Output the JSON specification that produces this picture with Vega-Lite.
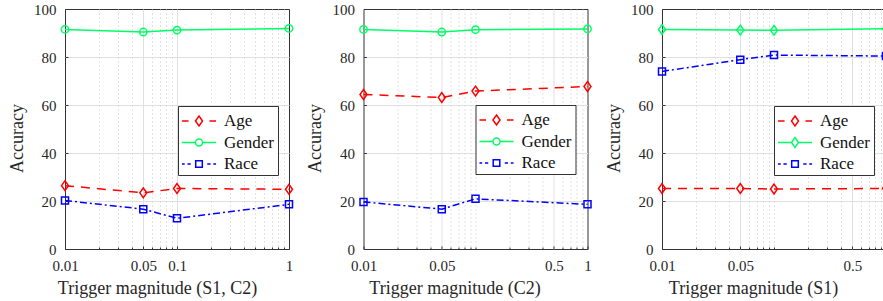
{
  "$schema": "https://vega.github.io/schema/vega-lite/v6.json",
  "padding": {"left": 7, "top": 1, "right": 0, "bottom": 0},
  "autosize": {"type": "pad"},
  "background": "white",
  "spacing": 74.5,
  "bounds": "flush",
  "config": {
    "font": "Liberation Serif",
    "view": {"stroke": "#333333", "strokeWidth": 1},
    "axis": {
      "domain": false,
      "ticks": true,
      "tickSize": -3,
      "tickColor": "#333333",
      "labelFont": "Liberation Serif",
      "labelFontSize": 15,
      "labelColor": "#262626",
      "titleFont": "Liberation Serif",
      "titleFontSize": 18,
      "titleFontWeight": "normal",
      "titleColor": "#262626",
      "gridColor": "#e0e0e0",
      "gridWidth": 1,
      "labelOverlap": false,
      "labelFlush": false
    },
    "legend": {
      "orient": "none",
      "title": null,
      "strokeColor": "#333333",
      "fillColor": "white",
      "padding": 3,
      "labelFont": "Liberation Serif",
      "labelFontSize": 17,
      "labelColor": "#111111",
      "symbolSize": 484,
      "symbolStrokeWidth": 1.5,
      "symbolOffset": 6,
      "labelOffset": 13,
      "rowPadding": 1.5,
      "labelExpr": "datum.label + '\u00a0\u00a0\u00a0\u00a0\u00a0\u00a0\u00a0\u00a0'"
    }
  },
  "resolve": {
    "scale": {"x": "independent", "y": "independent", "color": "independent"},
    "legend": {"color": "independent"},
    "axis": {"x": "independent", "y": "independent"}
  },
  "hconcat": [
    {
      "width": 224,
      "height": 240,
      "data": {"values": [
        {"m": 0.01, "series": "Age", "acc": 26.4},
        {"m": 0.05, "series": "Age", "acc": 23.4},
        {"m": 0.1, "series": "Age", "acc": 25.2},
        {"m": 1, "series": "Age", "acc": 24.9},
        {"m": 0.01, "series": "Gender", "acc": 91.5},
        {"m": 0.05, "series": "Gender", "acc": 90.4},
        {"m": 0.1, "series": "Gender", "acc": 91.2},
        {"m": 1, "series": "Gender", "acc": 91.9},
        {"m": 0.01, "series": "Race", "acc": 20.2},
        {"m": 0.05, "series": "Race", "acc": 16.6},
        {"m": 0.1, "series": "Race", "acc": 12.8},
        {"m": 1, "series": "Race", "acc": 18.6}
      ]},
      "encoding": {
        "x": {
          "field": "m", "type": "quantitative",
          "scale": {"type": "log", "domain": [0.01, 1], "nice": false},
          "axis": {
            "values": [0.01, 0.02, 0.03, 0.04, 0.05, 0.06, 0.07, 0.08, 0.09, 0.1, 0.2, 0.3, 0.4, 0.5, 0.6, 0.7, 0.8, 0.9, 1],
            "format": "~g",
            "labelExpr": "indexof([0.01, 0.05, 0.1, 1], datum.value) >= 0 ? datum.label : ''",
            "gridDash": {"condition": {"test": "indexof([0.01, 0.05, 0.1, 1], datum.value) >= 0", "value": []}, "value": [1, 3]},
            "gridColor": {"condition": {"test": "indexof([0.01, 0.05, 0.1, 1], datum.value) >= 0", "value": "#e0e0e0"}, "value": "#c4c4c4"},
            "gridOpacity": {"condition": {"test": "datum.value == 0.01 || datum.value == 1", "value": 0}, "value": 1},
            "tickSize": {"condition": {"test": "indexof([0.01, 0.05, 0.1, 1], datum.value) >= 0", "value": -3}, "value": -2},
            "labelPadding": 24,
            "labelBaseline": "alphabetic",
            "title": "Trigger magnitude (S1, C2)",
            "titleX": 92, "titleY": 44, "titleBaseline": "alphabetic", "titleAnchor": "middle", "titleAlign": "center"
          }
        },
        "y": {
          "field": "acc", "type": "quantitative",
          "scale": {"domain": [0, 100], "nice": false},
          "axis": {
            "values": [0, 20, 40, 60, 80, 100],
            "gridOpacity": {"condition": {"test": "datum.value == 0 || datum.value == 100", "value": 0}, "value": 1},
            "labelPadding": 12,
            "title": "Accuracy",
            "titleX": -43, "titleY": 129, "titleBaseline": "alphabetic", "titleAngle": -90, "titleAlign": "center"
          }
        },
        "color": {
          "field": "series", "type": "nominal",
          "scale": {"domain": ["Age", "Gender", "Race"], "range": ["#ff0000", "#00ff66", "#0000ff"]},
          "legend": {
            "legendX": 113, "legendY": 97,
            "encode": {"symbols": {"update": {
              "shape": {"signal": "datum.value === 'Age' ? 'M-1.55,0H-0.95M0.95,0H1.55M0,-0.45L0.32,0L0,0.45L-0.32,0Z' : datum.value === 'Gender' ? 'M-1.55,0H-0.32M0.32,0H1.55M0.32,0A0.32,0.32 0 1,1 -0.32,0A0.32,0.32 0 1,1 0.32,0Z' : 'M-1.55,0H-1.3M-1.05,0H-0.75M0.75,0H1.05M1.3,0H1.55M-0.3,-0.3H0.3V0.3H-0.3Z'"},
              "fill": {"value": "transparent"},
              "strokeDash": {"value": []},
              "size": {"value": 484}
            }}}
          }
        }
      },
      "layer": [
        {"transform": [{"filter": "datum.series === 'Age'"}], "mark": {"type": "line", "strokeWidth": 1.5, "strokeDash": [9, 7]}},
        {"transform": [{"filter": "datum.series === 'Gender'"}], "mark": {"type": "line", "strokeWidth": 1.5}},
        {"transform": [{"filter": "datum.series === 'Race'"}], "mark": {"type": "line", "strokeWidth": 1.5, "strokeDash": [7, 3, 2, 3]}},
        {"transform": [{"filter": "datum.series === 'Age'"}], "mark": {"type": "point", "shape": "M0,-1.4L1,0L0,1.4L-1,0Z", "filled": false, "strokeWidth": 1.5, "size": 49, "opacity": 1}},
        {"transform": [{"filter": "datum.series === 'Gender'"}], "mark": {"type": "point", "shape": "M1.05,0A1.05,1.05 0 1,1 -1.05,0A1.05,1.05 0 1,1 1.05,0Z", "filled": false, "strokeWidth": 1.5, "size": 49, "opacity": 1}},
        {"transform": [{"filter": "datum.series === 'Race'"}], "mark": {"type": "point", "shape": "M-1,-1H1V1H-1Z", "filled": false, "strokeWidth": 1.5, "size": 49, "opacity": 1}}
      ]
    },
    {
      "width": 224,
      "height": 240,
      "data": {"values": [
        {"m": 0.01, "series": "Age", "acc": 64.4},
        {"m": 0.05, "series": "Age", "acc": 63.1},
        {"m": 0.1, "series": "Age", "acc": 65.8},
        {"m": 1, "series": "Age", "acc": 67.7},
        {"m": 0.01, "series": "Gender", "acc": 91.5},
        {"m": 0.05, "series": "Gender", "acc": 90.4},
        {"m": 0.1, "series": "Gender", "acc": 91.4},
        {"m": 1, "series": "Gender", "acc": 91.7},
        {"m": 0.01, "series": "Race", "acc": 19.6},
        {"m": 0.05, "series": "Race", "acc": 16.6},
        {"m": 0.1, "series": "Race", "acc": 20.9},
        {"m": 1, "series": "Race", "acc": 18.6}
      ]},
      "encoding": {
        "x": {
          "field": "m", "type": "quantitative",
          "scale": {"type": "log", "domain": [0.01, 1], "nice": false},
          "axis": {
            "values": [0.01, 0.02, 0.03, 0.04, 0.05, 0.06, 0.07, 0.08, 0.09, 0.1, 0.2, 0.3, 0.4, 0.5, 0.6, 0.7, 0.8, 0.9, 1],
            "format": "~g",
            "labelExpr": "indexof([0.01, 0.05, 0.5, 1], datum.value) >= 0 ? datum.label : ''",
            "gridDash": {"condition": {"test": "indexof([0.01, 0.05, 0.5, 1], datum.value) >= 0", "value": []}, "value": [1, 3]},
            "gridColor": {"condition": {"test": "indexof([0.01, 0.05, 0.5, 1], datum.value) >= 0", "value": "#e0e0e0"}, "value": "#c4c4c4"},
            "gridOpacity": {"condition": {"test": "datum.value == 0.01 || datum.value == 1", "value": 0}, "value": 1},
            "tickSize": {"condition": {"test": "indexof([0.01, 0.05, 0.5, 1], datum.value) >= 0", "value": -3}, "value": -2},
            "labelPadding": 24,
            "labelBaseline": "alphabetic",
            "title": "Trigger magnitude (C2)",
            "titleX": 91, "titleY": 44, "titleBaseline": "alphabetic", "titleAnchor": "middle", "titleAlign": "center"
          }
        },
        "y": {
          "field": "acc", "type": "quantitative",
          "scale": {"domain": [0, 100], "nice": false},
          "axis": {
            "values": [0, 20, 40, 60, 80, 100],
            "gridOpacity": {"condition": {"test": "datum.value == 0 || datum.value == 100", "value": 0}, "value": 1},
            "labelPadding": 12,
            "title": "Accuracy",
            "titleX": -43, "titleY": 129, "titleBaseline": "alphabetic", "titleAngle": -90, "titleAlign": "center"
          }
        },
        "color": {
          "field": "series", "type": "nominal",
          "scale": {"domain": ["Age", "Gender", "Race"], "range": ["#ff0000", "#00ff66", "#0000ff"]},
          "legend": {
            "legendX": 112, "legendY": 96,
            "encode": {"symbols": {"update": {
              "shape": {"signal": "datum.value === 'Age' ? 'M-1.55,0H-0.95M0.95,0H1.55M0,-0.45L0.32,0L0,0.45L-0.32,0Z' : datum.value === 'Gender' ? 'M-1.55,0H-0.32M0.32,0H1.55M0.32,0A0.32,0.32 0 1,1 -0.32,0A0.32,0.32 0 1,1 0.32,0Z' : 'M-1.55,0H-1.3M-1.05,0H-0.75M0.75,0H1.05M1.3,0H1.55M-0.3,-0.3H0.3V0.3H-0.3Z'"},
              "fill": {"value": "transparent"},
              "strokeDash": {"value": []},
              "size": {"value": 484}
            }}}
          }
        }
      },
      "layer": [
        {"transform": [{"filter": "datum.series === 'Age'"}], "mark": {"type": "line", "strokeWidth": 1.5, "strokeDash": [9, 7]}},
        {"transform": [{"filter": "datum.series === 'Gender'"}], "mark": {"type": "line", "strokeWidth": 1.5}},
        {"transform": [{"filter": "datum.series === 'Race'"}], "mark": {"type": "line", "strokeWidth": 1.5, "strokeDash": [7, 3, 2, 3]}},
        {"transform": [{"filter": "datum.series === 'Age'"}], "mark": {"type": "point", "shape": "M0,-1.4L1,0L0,1.4L-1,0Z", "filled": false, "strokeWidth": 1.5, "size": 49, "opacity": 1}},
        {"transform": [{"filter": "datum.series === 'Gender'"}], "mark": {"type": "point", "shape": "M1.05,0A1.05,1.05 0 1,1 -1.05,0A1.05,1.05 0 1,1 1.05,0Z", "filled": false, "strokeWidth": 1.5, "size": 49, "opacity": 1}},
        {"transform": [{"filter": "datum.series === 'Race'"}], "mark": {"type": "point", "shape": "M-1,-1H1V1H-1Z", "filled": false, "strokeWidth": 1.5, "size": 49, "opacity": 1}}
      ]
    },
    {
      "width": 224,
      "height": 240,
      "data": {"values": [
        {"m": 0.01, "series": "Age", "acc": 25.2},
        {"m": 0.05, "series": "Age", "acc": 25.2},
        {"m": 0.1, "series": "Age", "acc": 25.0},
        {"m": 1, "series": "Age", "acc": 25.2},
        {"m": 0.01, "series": "Gender", "acc": 91.5},
        {"m": 0.05, "series": "Gender", "acc": 91.2},
        {"m": 0.1, "series": "Gender", "acc": 91.1},
        {"m": 1, "series": "Gender", "acc": 91.8},
        {"m": 0.01, "series": "Race", "acc": 74.0},
        {"m": 0.05, "series": "Race", "acc": 78.9},
        {"m": 0.1, "series": "Race", "acc": 80.8},
        {"m": 1, "series": "Race", "acc": 80.4}
      ]},
      "encoding": {
        "x": {
          "field": "m", "type": "quantitative",
          "scale": {"type": "log", "domain": [0.01, 1], "nice": false},
          "axis": {
            "values": [0.01, 0.02, 0.03, 0.04, 0.05, 0.06, 0.07, 0.08, 0.09, 0.1, 0.2, 0.3, 0.4, 0.5, 0.6, 0.7, 0.8, 0.9, 1],
            "format": "~g",
            "labelExpr": "indexof([0.01, 0.05, 0.5, 1], datum.value) >= 0 ? datum.label : ''",
            "gridDash": {"condition": {"test": "indexof([0.01, 0.05, 0.5, 1], datum.value) >= 0", "value": []}, "value": [1, 3]},
            "gridColor": {"condition": {"test": "indexof([0.01, 0.05, 0.5, 1], datum.value) >= 0", "value": "#e0e0e0"}, "value": "#c4c4c4"},
            "gridOpacity": {"condition": {"test": "datum.value == 0.01 || datum.value == 1", "value": 0}, "value": 1},
            "tickSize": {"condition": {"test": "indexof([0.01, 0.05, 0.5, 1], datum.value) >= 0", "value": -3}, "value": -2},
            "labelPadding": 24,
            "labelBaseline": "alphabetic",
            "title": "Trigger magnitude (S1)",
            "titleX": 91, "titleY": 44, "titleBaseline": "alphabetic", "titleAnchor": "middle", "titleAlign": "center"
          }
        },
        "y": {
          "field": "acc", "type": "quantitative",
          "scale": {"domain": [0, 100], "nice": false},
          "axis": {
            "values": [0, 20, 40, 60, 80, 100],
            "gridOpacity": {"condition": {"test": "datum.value == 0 || datum.value == 100", "value": 0}, "value": 1},
            "labelPadding": 12,
            "title": "Accuracy",
            "titleX": -43, "titleY": 129, "titleBaseline": "alphabetic", "titleAngle": -90, "titleAlign": "center"
          }
        },
        "color": {
          "field": "series", "type": "nominal",
          "scale": {"domain": ["Age", "Gender", "Race"], "range": ["#ff0000", "#00ff66", "#0000ff"]},
          "legend": {
            "legendX": 112, "legendY": 97,
            "encode": {"symbols": {"update": {
              "shape": {"signal": "datum.value === 'Age' ? 'M-1.55,0H-0.95M0.95,0H1.55M0,-0.45L0.32,0L0,0.45L-0.32,0Z' : datum.value === 'Gender' ? 'M-1.55,0H-0.32M0.32,0H1.55M0,-0.45L0.32,0L0,0.45L-0.32,0Z' : 'M-1.55,0H-1.3M-1.05,0H-0.75M0.75,0H1.05M1.3,0H1.55M-0.3,-0.3H0.3V0.3H-0.3Z'"},
              "fill": {"value": "transparent"},
              "strokeDash": {"value": []},
              "size": {"value": 484}
            }}}
          }
        }
      },
      "layer": [
        {"transform": [{"filter": "datum.series === 'Age'"}], "mark": {"type": "line", "strokeWidth": 1.5, "strokeDash": [9, 7]}},
        {"transform": [{"filter": "datum.series === 'Gender'"}], "mark": {"type": "line", "strokeWidth": 1.5}},
        {"transform": [{"filter": "datum.series === 'Race'"}], "mark": {"type": "line", "strokeWidth": 1.5, "strokeDash": [7, 3, 2, 3]}},
        {"transform": [{"filter": "datum.series === 'Age'"}], "mark": {"type": "point", "shape": "M0,-1.4L1,0L0,1.4L-1,0Z", "filled": false, "strokeWidth": 1.5, "size": 49, "opacity": 1}},
        {"transform": [{"filter": "datum.series === 'Gender'"}], "mark": {"type": "point", "shape": "M0,-1.4L1,0L0,1.4L-1,0Z", "filled": false, "strokeWidth": 1.5, "size": 49, "opacity": 1}},
        {"transform": [{"filter": "datum.series === 'Race'"}], "mark": {"type": "point", "shape": "M-1,-1H1V1H-1Z", "filled": false, "strokeWidth": 1.5, "size": 49, "opacity": 1}}
      ]
    }
  ]
}
